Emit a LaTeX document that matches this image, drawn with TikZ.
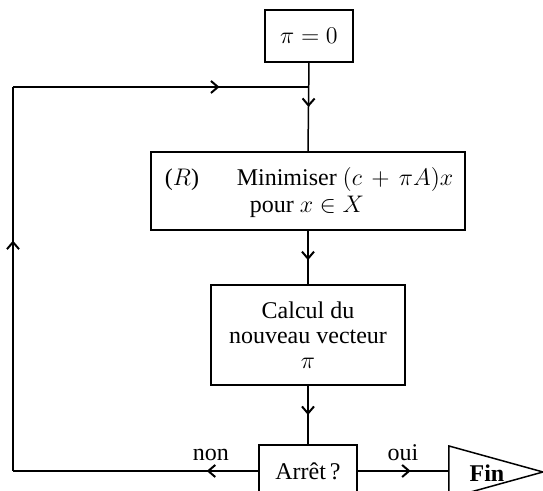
\documentclass[tikz,border=0pt]{standalone}
\usepackage{fontspec}
\setmainfont{Liberation Serif}
\usetikzlibrary{arrows.meta,decorations.markings}
\tikzset{
  px/.style={x=0.5pt,y=-0.5pt},
  txt/.style={font=\fontsize{12}{12.5}\selectfont, inner sep=0pt},
  box/.style={draw, line width=0.75pt, inner sep=0pt, align=center, font=\fontsize{12}{12.5}\selectfont},
  conn/.style={line width=0.75pt},
  midarrow/.style={postaction={decorate}, decoration={markings,
     mark=at position #1 with {\arrow[line width=1pt]{Straight Barb[length=3.5pt,width=6pt]}}}}
}
\begin{document}
\begin{tikzpicture}[px]
\useasboundingbox (0,0) rectangle (543,491);
\clip (0,0) rectangle (543,491);
% boxes
\node[box, minimum width=44pt, minimum height=26pt] (pi) at (309,36) {$\pi = 0$};
\node[box, minimum width=157pt, minimum height=39pt] (R) at (308,191) {};
\node[txt] (Rlab) at (182,180) {($R$)};
\node[txt] (Rmin) at (345,180) {Minimiser $(c \,+\, \pi A)x$};
\node[txt] (Rpour) at (307,207) {pour $x \in X$};
\node[box, minimum width=97pt, minimum height=50pt] (calc) at (308,335) {Calcul du\\nouveau vecteur\\$\pi$};
\node[box, minimum width=49pt, minimum height=26pt] (arret) at (308,471) {Arrêt\,?};
% Fin triangle
\coordinate (finW) at (449,471);
\draw[conn] (449,446) -- (543,472) -- (449,498) -- cycle;
\node[txt, font=\fontsize{12}{12.5}\selectfont\bfseries] (fin) at (487,473) {Fin};
% loop corners
\coordinate (join) at (308,87);
\coordinate (loopTL) at (13,87);
\coordinate (loopBL) at (13,471);
% connectors
\draw[conn, midarrow=0.5] (pi.south) -- (R.north);
\draw[conn, midarrow=0.55] (R.south) -- (calc.north);
\draw[conn, midarrow=0.5] (calc.south) -- (arret.north);
\draw[conn, midarrow=0.21] (arret.west) -- (loopBL);
\draw[conn, midarrow=0.60] (loopBL) -- (loopTL);
\draw[conn, midarrow=0.70] (loopTL) -- (join);
\draw[conn, midarrow=0.58] (arret.east) -- (finW);
% labels
\node[txt] (non) at (211,455) {non};
\node[txt] (oui) at (403,453) {oui};
\end{tikzpicture}
\end{document}
